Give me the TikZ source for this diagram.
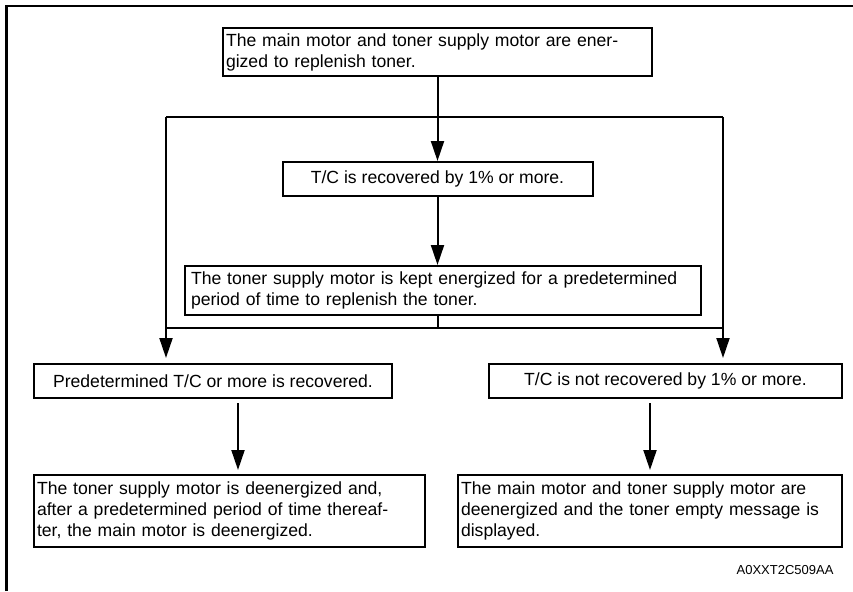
\documentclass[tikz,border=0pt]{standalone}
\usepackage{fontspec}
\setmainfont{Liberation Sans}
\usetikzlibrary{arrows.meta,positioning}

\begin{document}
\begin{tikzpicture}[x=1pt, y=1pt, node distance=60pt,
    every node/.style={font=\fontsize{17.6pt}{21pt}\selectfont},
    stepbox/.style={draw, line width=2pt, inner xsep=3pt, inner ysep=2pt, align=left},
    flow/.style={-{Triangle[length=20pt,width=13pt]}, line width=2pt},
    link/.style={line width=2pt}]
    \useasboundingbox (0,0) rectangle (853,-591);
    \draw[line width=2.5pt] (6.5,-591) |- (853,-6);

    \node[stepbox, text width=423pt, minimum height=48pt] (start) at (437.5,-52) {The main motor and toner supply motor are ener-\\gized to replenish toner.};
    \node[stepbox, align=center, minimum width=310pt, minimum height=34pt, below=84pt of start] (recov) {T/C is recovered by 1\% or more.};
    \node[stepbox, text width=504pt, minimum height=49pt, below=68pt of recov, xshift=5.5pt, inner xsep=6pt] (kept) {The toner supply motor is kept energized for a predetermined\\period of time to replenish the toner.};

    \node[stepbox, align=center, minimum width=358pt, minimum height=34pt] (pred) at (213,-381) {Predetermined T/C or more is recovered.};
    \node[stepbox, align=center, minimum width=353pt, minimum height=34pt] (notrec) at (665.5,-381) {T/C is not recovered by 1\% or more.};
    \node[stepbox, text width=385pt, minimum height=72pt, below=75pt of pred.south west, anchor=north west] (stopmain) {The toner supply motor is deenergized and,\\after a predetermined period of time thereaf-\\ter, the main motor is deenergized.};
    \node[stepbox, text width=378pt, minimum height=72pt, below=75pt of notrec.south east, anchor=north east] (stopall) {The main motor and toner supply motor are\\deenergized and the toner empty message is\\displayed.};

    \node[font=\fontsize{13pt}{15pt}\selectfont, anchor=east] (figcode) at (837,-570) {A0XXT2C509AA};

    % split and merge points of the loop
    \coordinate (splitL) at (166,-117);
    \coordinate (splitR) at (723,-117);
    \coordinate (mergeC) at (437.5,-328);

    \draw[flow] (start.south) -- (recov.north);
    \draw[link] (splitL) -- (splitR);
    \draw[flow] (recov.south) -- (recov.south |- kept.north);
    \draw[link] (recov.south |- kept.south) -- (mergeC);
    \draw[link] (splitL |- mergeC) -- (splitR |- mergeC);
    \draw[flow, shorten >=5pt] (splitL) -- (splitL |- pred.north);
    \draw[flow, shorten >=5pt] (splitR) -- (splitR |- notrec.north);
    \draw[flow, shorten <=4pt, shorten >=4pt] ([xshift=25pt]pred.south) -- ([xshift=25pt]pred.south |- stopmain.north);
    \draw[flow, shorten <=4pt, shorten >=4pt] (stopall.north |- notrec.south) -- (stopall.north);
\end{tikzpicture}
\end{document}
